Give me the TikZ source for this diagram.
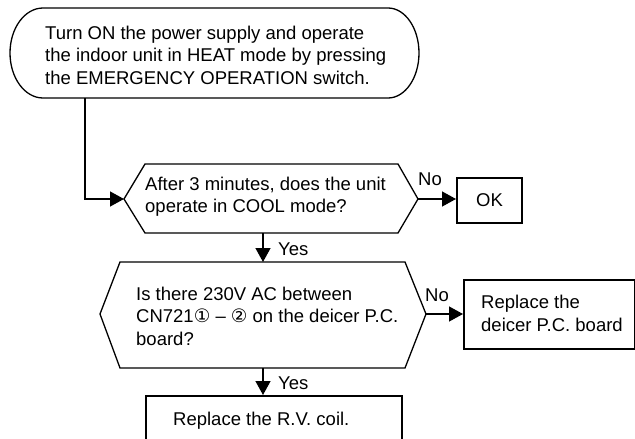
\documentclass[tikz,border=0pt]{standalone}
\usepackage{fontspec}
\setmainfont{Liberation Sans}
\newfontfamily\dv{DejaVu Sans}
\usetikzlibrary{arrows.meta}
\begin{document}
\begin{tikzpicture}[x=1pt,y=-1pt, line join=miter,
  every node/.style={inner sep=0pt, font=\fontsize{18.5}{22.5}\selectfont},
  txt/.style={align=left, anchor=west},
  thinline/.style={line width=1.3pt},
  boxline/.style={line width=2pt},
  arr/.style={line width=1.3pt, -{Triangle[length=14pt,width=15pt]}}]
\useasboundingbox (0,0) rectangle (635,439);
\clip (0,0) rectangle (635,439);

% start terminal
\draw[thinline] (43,8) -- (388,8) arc[start angle=-90,end angle=90,x radius=31,y radius=45]
  -- (43,98) arc[start angle=90,end angle=270,x radius=33,y radius=45] -- cycle;
\node[txt] (start) at (45,55) {Turn ON the power supply and operate\\the indoor unit in HEAT mode by pressing\\the EMERGENCY OPERATION switch.};
\coordinate (s1) at (85,98);

% decision 1
\coordinate (d1w) at (124,199);
\coordinate (d1e) at (418,199);
\coordinate (d1s) at (263,233);
\draw[thinline] (d1w) -- (145,164) -- (398,164) -- (d1e) -- (398,233) -- (145,233) -- cycle;
\node[txt] (q1) at (145,196.5) {After 3 minutes, does the unit\\operate in COOL mode?};

% OK
\node[draw, boxline, anchor=north west, minimum width=65pt, minimum height=45pt] (ok) at (456,176.5) {OK};

% decision 2
\coordinate (d2n) at (263,262);
\coordinate (d2e) at (426,314);
\coordinate (d2s) at (263,368);
\draw[thinline] (100,314) -- (120,262) -- (405,262) -- (d2e) -- (405,368) -- (120,368) -- cycle;
\node[txt] (q2) at (136,316) {Is there 230V AC between\\CN721{\dv ①} – {\dv ②} on the deicer P.C.\\board?};

% replace deicer board
\node[draw, boxline, anchor=north west, minimum width=171pt, minimum height=69pt] (r2) at (463,279) {};
\node[txt] (r2t) at (481,313.5) {Replace the\\deicer P.C. board};

% replace RV coil
\node[draw, boxline, anchor=north west, minimum width=256pt, minimum height=70pt] (rv) at (145,395) {};
\node[txt] (rvt) at (173,421) {Replace the R.V. coil.};

% connectors
\draw[arr] (s1) |- (d1w);
\draw[arr] (d1e) -- (ok.west |- d1e);
\draw[arr] (d1s) -- (d2n);
\draw[arr] (d2e) -- (r2.west |- d2e);
\draw[arr] (d2s) -- (d2s |- rv.north);

% labels
\node (no1) at (430,179) {No};
\node (no2) at (437,295) {No};
\node[anchor=west] (yes1) at (278,249) {Yes};
\node[anchor=west] (yes2) at (278,383) {Yes};
\end{tikzpicture}
\end{document}
